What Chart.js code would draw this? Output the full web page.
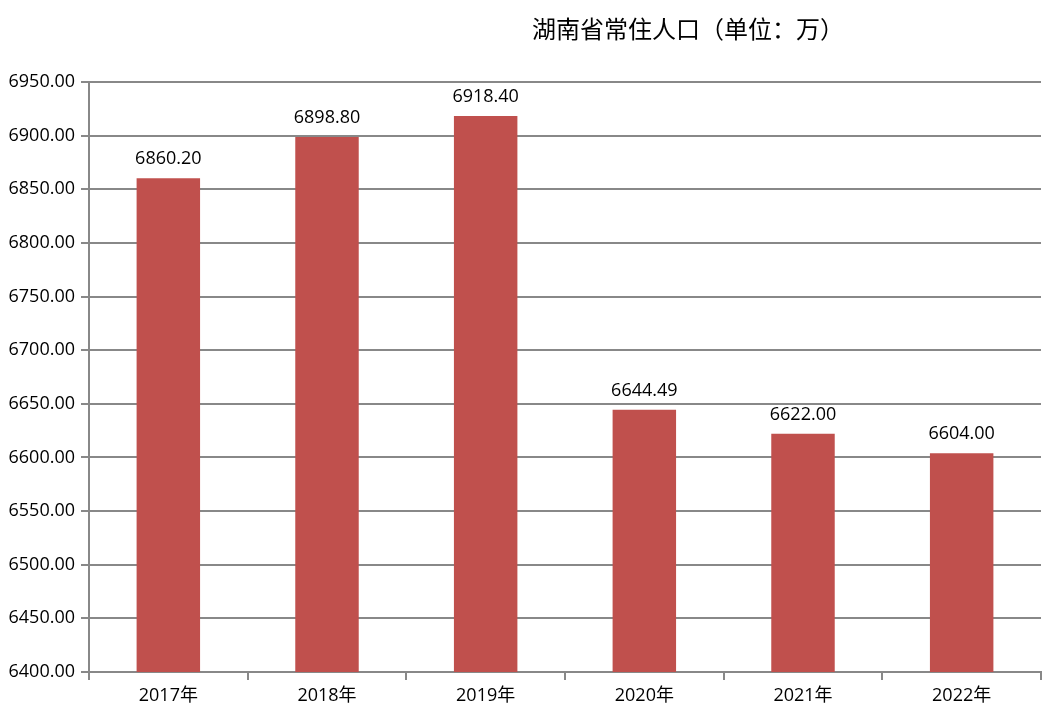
<!DOCTYPE html>
<html>
<head>
<meta charset="utf-8">
<script src="https://cdn.jsdelivr.net/npm/chart.js@4/dist/chart.umd.min.js"></script>
<style>
  html, body { margin: 0; padding: 0; background: #fff; }
  #wrap { width: 1061px; height: 725px; }
</style>
</head>
<body>
<div id="wrap"><canvas id="grafica"></canvas></div>
<script>
const years = ['2017年', '2018年', '2019年', '2020年', '2021年', '2022年'];
const population = [6860.20, 6898.80, 6918.40, 6644.49, 6622.00, 6604.00];
const titulo = '湖南省常住人口（单位：万）';
const yMin = 6400;
const yMax = 6950;
const yStep = 50;

const fuente = "'Open Sans', 'Noto Sans CJK SC', sans-serif";

// Titulo y etiquetas encima de las barras
const etiquetas = {
  id: 'etiquetas',
  afterDatasetsDraw(chart) {
    const ctx = chart.ctx;
    ctx.save();
    ctx.fillStyle = '#000';
    ctx.font = "18px " + fuente;
    ctx.textAlign = 'center';
    ctx.textBaseline = 'bottom';
    chart.getDatasetMeta(0).data.forEach((bar, i) => {
      ctx.fillText(population[i].toFixed(2), bar.x, bar.y - 10);
    });
    ctx.font = "24px 'Noto Sans CJK SC', sans-serif";
    ctx.textBaseline = 'middle';
    ctx.fillText(titulo, 688, 29);
    ctx.restore();
  }
};

const ctx = document.getElementById('grafica').getContext('2d');
new Chart(ctx, {
  type: 'bar',
  data: {
    labels: years,
    datasets: [{
      data: population,
      backgroundColor: '#c0504d',
      barPercentage: 0.4,
      categoryPercentage: 1
    }]
  },
  options: {
    responsive: true,
    maintainAspectRatio: false,
    animation: false,
    layout: { padding: { top: 82, right: 20, left: 0, bottom: 0 } },
    plugins: {
      legend: { display: false },
      tooltip: { enabled: false }
    },
    scales: {
      x: {
        grid: { drawOnChartArea: false, offset: true, tickLength: 8, color: '#888', lineWidth: 2 },
        border: { color: '#888', width: 2 },
        ticks: { color: '#000', font: { size: 18, family: fuente }, padding: 5 },
        afterFit(scale) { scale.height = 53; }
      },
      y: {
        min: yMin,
        max: yMax,
        grid: { color: '#888', lineWidth: 2, tickLength: 8 },
        border: { color: '#888', width: 2 },
        ticks: {
          stepSize: yStep,
          color: '#000',
          font: { size: 18, family: fuente },
          padding: 6,
          callback: v => v.toFixed(2)
        },
        afterFit(scale) { scale.width = 89; }
      }
    }
  },
  plugins: [etiquetas]
});
</script>
</body>
</html>
